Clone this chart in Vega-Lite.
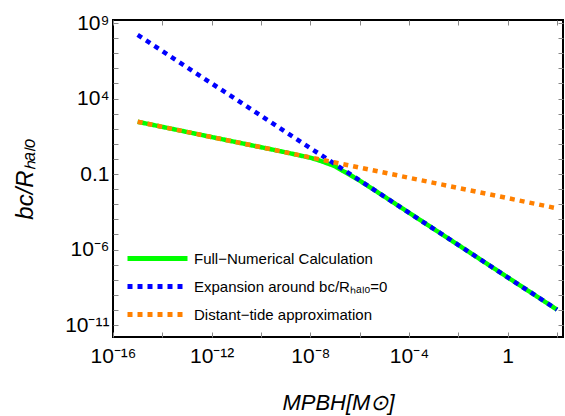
{
  "$schema": "https://vega.github.io/schema/vega-lite/v6.json",
  "width": 450,
  "height": 317,
  "autosize": {"type": "none"},
  "padding": {"left": 113, "top": 20, "right": 2, "bottom": 79},
  "background": "white",
  "config": {
    "font": "Liberation Sans",
    "view": {"stroke": "black", "strokeWidth": 2},
    "axis": {
      "grid": false,
      "domain": false,
      "ticks": true,
      "tickSize": -5,
      "tickWidth": 1,
      "tickColor": "#888888",
      "labelFont": "Liberation Sans",
      "labelFontSize": 21,
      "labelColor": "black",
      "labelOverlap": false,
      "labelFlush": false,
      "titleFont": "Liberation Sans",
      "titleFontWeight": "normal",
      "titleColor": "black"
    },
    "legend": {
      "labelFont": "Liberation Sans",
      "labelFontSize": 15,
      "labelColor": "black",
      "labelLimit": 0
    }
  },
  "data": {
    "values": [
      {"s": "Full−Numerical Calculation", "m": 1e-15, "b": 288},
      {"s": "Full−Numerical Calculation", "m": 1e-13, "b": 61.1},
      {"s": "Full−Numerical Calculation", "m": 1e-11, "b": 12.9},
      {"s": "Full−Numerical Calculation", "m": 1e-9, "b": 2.74},
      {"s": "Full−Numerical Calculation", "m": 1e-8, "b": 1.2},
      {"s": "Full−Numerical Calculation", "m": 2.51e-8, "b": 0.759},
      {"s": "Full−Numerical Calculation", "m": 5.01e-8, "b": 0.501},
      {"s": "Full−Numerical Calculation", "m": 1e-7, "b": 0.331},
      {"s": "Full−Numerical Calculation", "m": 2e-7, "b": 0.166},
      {"s": "Full−Numerical Calculation", "m": 3.98e-7, "b": 0.0891},
      {"s": "Full−Numerical Calculation", "m": 1e-6, "b": 0.0363},
      {"s": "Full−Numerical Calculation", "m": 3.16e-6, "b": 0.011},
      {"s": "Full−Numerical Calculation", "m": 1e-4, "b": 2.75e-4},
      {"s": "Full−Numerical Calculation", "m": 1e-2, "b": 2.0e-6},
      {"s": "Full−Numerical Calculation", "m": 1, "b": 1.45e-8},
      {"s": "Full−Numerical Calculation", "m": 100, "b": 1.05e-10},
      {"s": "Expansion around bc/Rₕₐₗₒ=0", "m": 1e-15, "b": 1.62e8},
      {"s": "Expansion around bc/Rₕₐₗₒ=0", "m": 1e-11, "b": 8510},
      {"s": "Expansion around bc/Rₕₐₗₒ=0", "m": 1e-7, "b": 0.447},
      {"s": "Expansion around bc/Rₕₐₗₒ=0", "m": 1e-3, "b": 2.34e-5},
      {"s": "Expansion around bc/Rₕₐₗₒ=0", "m": 100, "b": 1.05e-10},
      {"s": "Distant−tide approximation", "m": 1e-15, "b": 288},
      {"s": "Distant−tide approximation", "m": 1e-11, "b": 12.9},
      {"s": "Distant−tide approximation", "m": 1e-7, "b": 0.581},
      {"s": "Distant−tide approximation", "m": 1e-3, "b": 0.0261},
      {"s": "Distant−tide approximation", "m": 100, "b": 5.37e-4}
    ]
  },
  "encoding": {
    "x": {"field": "m", "type": "quantitative"},
    "y": {"field": "b", "type": "quantitative"},
    "color": {
      "field": "s",
      "type": "nominal",
      "scale": {
        "domain": ["Full−Numerical Calculation", "Expansion around bc/Rₕₐₗₒ=0", "Distant−tide approximation"],
        "range": ["#00ff00", "#0000ff", "#ff8000"]
      },
      "legend": {
        "title": null,
        "orient": "bottom-left",
        "offset": 12,
        "symbolType": "M-1,0H4",
        "symbolStrokeWidth": 5,
        "symbolSize": 576,
        "rowPadding": 3,
        "labelOffset": 40,
        "padding": 0
      }
    },
    "strokeDash": {
      "field": "s",
      "type": "nominal",
      "scale": {
        "domain": ["Full−Numerical Calculation", "Expansion around bc/Rₕₐₗₒ=0", "Distant−tide approximation"],
        "range": [[1, 0], [5, 5], [5, 5]]
      },
      "legend": null
    }
  },
  "layer": [
    {
      "transform": [{"filter": "datum.s === 'Full−Numerical Calculation'"}],
      "mark": {"type": "line", "strokeWidth": 4.5, "clip": true},
      "encoding": {
        "x": {
          "field": "m",
          "type": "quantitative",
          "scale": {"type": "log", "domain": [1e-16, 175], "nice": false},
          "axis": {
            "orient": "bottom",
            "values": [1e-16, 1e-14, 1e-12, 1e-10, 1e-8, 1e-6, 1e-4, 1e-2, 1, 100],
            "labelExpr": "round(log(datum.value)/LN10) == -16 ? '10⁻¹⁶' : round(log(datum.value)/LN10) == -12 ? '10⁻¹²' : round(log(datum.value)/LN10) == -8 ? '10⁻⁸' : round(log(datum.value)/LN10) == -4 ? '10⁻⁴' : round(log(datum.value)/LN10) == 0 ? '1' : ''",
            "labelPadding": 13,
            "title": "MPBH[M⊙]",
            "titleFontSize": 22,
            "titleFontStyle": "italic",
            "titlePadding": 26
          }
        },
        "y": {
          "field": "b",
          "type": "quantitative",
          "scale": {"type": "log", "domain": [1.62e-12, 1.58e9], "nice": false},
          "axis": {
            "orient": "left",
            "values": [1e-11, 1e-10, 1e-9, 1e-8, 1e-7, 1e-6, 1e-5, 1e-4, 1e-3, 1e-2, 1e-1, 1, 10, 100, 1000, 1e4, 1e5, 1e6, 1e7, 1e8, 1e9],
            "labelExpr": "round(log(datum.value)/LN10) == 9 ? '10⁹' : round(log(datum.value)/LN10) == 4 ? '10⁴' : round(log(datum.value)/LN10) == -1 ? '0.1' : round(log(datum.value)/LN10) == -6 ? '10⁻⁶' : round(log(datum.value)/LN10) == -11 ? '10⁻¹¹' : ''",
            "labelPadding": 9,
            "title": "bc/Rₕₐₗₒ",
            "titleFontSize": 24,
            "titleFontStyle": "italic",
            "titlePadding": 27
          }
        }
      }
    },
    {
      "transform": [{"filter": "datum.s === 'Expansion around bc/Rₕₐₗₒ=0'"}],
      "mark": {"type": "line", "strokeWidth": 4.5, "clip": true},
      "encoding": {
        "x": {
          "field": "m",
          "type": "quantitative",
          "scale": {"type": "log", "domain": [1e-16, 175], "nice": false},
          "axis": {
            "orient": "top",
            "values": [1e-16, 1e-14, 1e-12, 1e-10, 1e-8, 1e-6, 1e-4, 1e-2, 1, 100],
            "labels": false,
            "title": null
          }
        },
        "y": {
          "field": "b",
          "type": "quantitative",
          "scale": {"type": "log", "domain": [1.62e-12, 1.58e9], "nice": false},
          "axis": {
            "orient": "right",
            "values": [1e-11, 1e-10, 1e-9, 1e-8, 1e-7, 1e-6, 1e-5, 1e-4, 1e-3, 1e-2, 1e-1, 1, 10, 100, 1000, 1e4, 1e5, 1e6, 1e7, 1e8, 1e9],
            "labels": false,
            "title": null
          }
        }
      }
    },
    {
      "transform": [{"filter": "datum.s === 'Distant−tide approximation'"}],
      "mark": {"type": "line", "strokeWidth": 4.5, "clip": true},
      "encoding": {
        "x": {
          "field": "m",
          "type": "quantitative",
          "scale": {"type": "log", "domain": [1e-16, 175], "nice": false},
          "axis": null
        },
        "y": {
          "field": "b",
          "type": "quantitative",
          "scale": {"type": "log", "domain": [1.62e-12, 1.58e9], "nice": false},
          "axis": null
        }
      }
    }
  ],
  "resolve": {"axis": {"x": "independent", "y": "independent"}}
}
